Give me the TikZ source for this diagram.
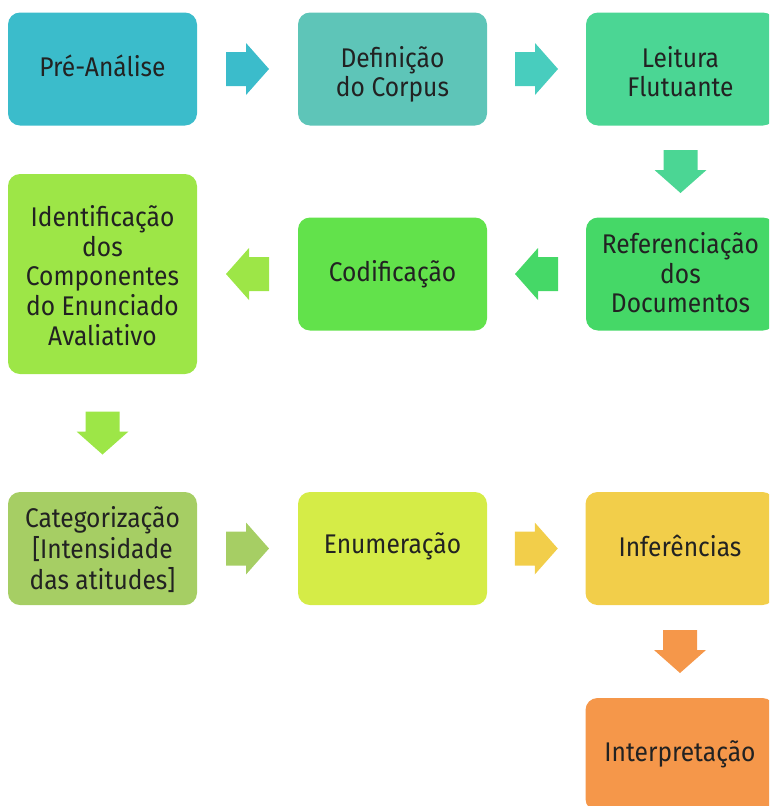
\documentclass[tikz,border=0pt]{standalone}
\usepackage{fontspec}
\setmainfont{Fira Sans}[FakeStretch=0.91]
\usetikzlibrary{calc}
\definecolor{cPre}{HTML}{3BBCCB}
\definecolor{cDef}{HTML}{5EC5B8}
\definecolor{aDef}{HTML}{48CDBE}
\definecolor{cLei}{HTML}{4BD694}
\definecolor{cRef}{HTML}{45D867}
\definecolor{cCod}{HTML}{62E24B}
\definecolor{cIde}{HTML}{9DE647}
\definecolor{cCat}{HTML}{A6CE64}
\definecolor{cEnu}{HTML}{D5EC47}
\definecolor{cInf}{HTML}{F2CE4A}
\definecolor{cInt}{HTML}{F5974A}
\definecolor{txt}{HTML}{222222}
\newcommand\mltext[2][0pt]{\raisebox{#1}[\height][\depth]{\begin{tabular}{@{}c@{}}#2\end{tabular}}}
\newcommand\sltext[2][0pt]{\raisebox{#1}[\height][\depth]{#2}}
\tikzset{
  box/.style={rectangle, rounded corners=12pt, minimum width=189pt, minimum height=113pt,
    inner sep=0pt, text=txt, align=center, font=\fontsize{27}{29.5}\selectfont},
  blockarrow/.pic={\fill (-21.5,-17) -- (-1.5,-17) -- (-1.5,-26) -- (21.5,0) -- (-1.5,26) -- (-1.5,17) -- (-21.5,17) -- cycle;}
}
\begin{document}
\begin{tikzpicture}[x=1pt,y=-1pt]
\useasboundingbox (0,0) rectangle (769,806);
\clip (0,0) rectangle (769,806);
\node[box, fill=cPre] (pre) at (102.5,69) {\sltext[3.5pt]{Pré-Análise}};
\node[box, fill=cDef] (def) at (392.5,69) {\mltext[-7pt]{Definição\\do Corpus}};
\node[box, fill=cLei] (lei) at (680.5,69) {\mltext[-7pt]{Leitura\\Flutuante}};
\node[box, fill=cIde, minimum height=200pt] (ide) at (102.5,274) {\mltext[-6pt]{Identificação\\dos\\Componentes\\do Enunciado\\Avaliativo}};
\node[box, fill=cCod] (cod) at (392.5,274) {Codificação};
\node[box, fill=cRef] (ref) at (680.5,274) {\mltext[-3pt]{Referenciação\\dos\\Documentos}};
\node[box, fill=cCat] (cat) at (102.5,548.5) {\mltext[-4pt]{Categorização\\{[Intensidade}\\das atitudes]}};
\node[box, fill=cEnu] (enu) at (392.5,548.5) {\sltext[2pt]{Enumeração}};
\node[box, fill=cInf] (inf) at (680,548.5) {\sltext[2.5pt]{Inferências}};
\node[box, fill=cInt] (int) at (680,754.5) {Interpretação};

\pic[fill=cPre] at ($(pre.east)!0.5!(def.west)$) {blockarrow};
\pic[fill=aDef] at ($(def.east)!0.5!(lei.west)$) {blockarrow};
\pic[fill=cLei, rotate=-90] at ($(lei.south)!0.5!(ref.north)$) {blockarrow};
\pic[fill=cRef, rotate=180] at ($(ref.west)!0.5!(cod.east)$) {blockarrow};
\pic[fill=cIde, rotate=180] at ($(cod.west)!0.5!(ide.east)$) {blockarrow};
\pic[fill=cIde, rotate=-90] at ($(ide.south)!0.5!(cat.north)$) {blockarrow};
\pic[fill=cCat] at ($(cat.east)!0.5!(enu.west)$) {blockarrow};
\pic[fill=cInf] at ($(enu.east)!0.5!(inf.west)$) {blockarrow};
\pic[fill=cInt, rotate=-90] at ($(inf.south)!0.5!(int.north)$) {blockarrow};
\end{tikzpicture}
\end{document}
